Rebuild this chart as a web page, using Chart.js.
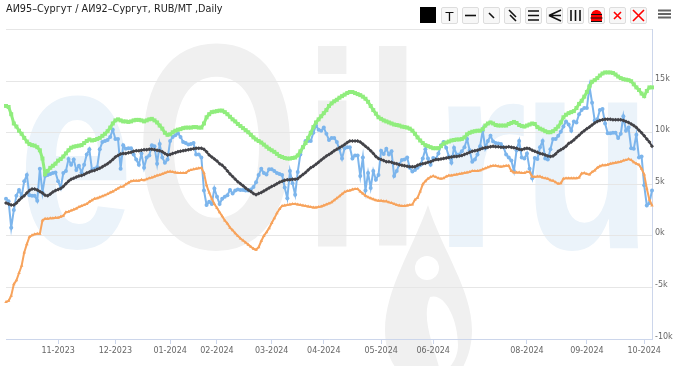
<!DOCTYPE html>
<html>
<head>
<meta charset="utf-8">
<title>АИ95-Сургут / АИ92-Сургут</title>
<script src="https://cdn.jsdelivr.net/npm/chart.js@4"></script>
<style>
    html, body { margin: 0; padding: 0; background: #fff; }
    #wrap { position: relative; width: 680px; height: 366px; overflow: hidden; }
    #toolbar { position: absolute; left: 0; top: 0; }
    .btn {
        position: absolute; top: 7px; width: 15px; height: 15px;
        border: 1px solid #ddd; border-radius: 2px; background: #f7f7f7;
    }
    .btn svg, #menu svg { display: block; }
    #menu { position: absolute; left: 658px; top: 9px; }
</style>
</head>
<body>
<div id="wrap">
    <canvas id="chart" width="680" height="366"></canvas>
    <div id="toolbar"></div>
    <div id="menu"><svg width="13" height="10"><path d="M0 1.5H13M0 5H13M0 8.5H13" stroke="#666" stroke-width="2"/></svg></div>
</div>
<script>
const titleText = 'АИ95–Сургут / АИ92–Сургут, RUB/MT ,Daily';

// month labels and the trading day each one falls on
const tickLabels = ['11-2023', '12-2023', '01-2024', '02-2024', '03-2024', '04-2024', '05-2024', '06-2024', '08-2024', '09-2024', '10-2024'];
const tickDays = [20, 42, 63, 81, 102, 122, 144, 164, 200, 223, 245];

const yTicks = [-10, -5, 0, 5, 10, 15];

// all values in thousands RUB/MT
const spread = [
    3.6, 3.35, 0.8, 2.5, 3.9, 4.45, 3.85, 5.3, 5.9, 3.95,
    3.9, 3.9, 3.4, 6.5, 4.2, 5.8, 5.9, 6.0, 6.1, 6.15,
    5.3, 4.65, 6.1, 6.3, 7.45, 6.9, 7.4, 6.4, 6.8, 6.15,
    6.9, 7.9, 8.4, 6.4, 6.5, 6.65, 8.4, 9.1, 9.2, 9.3,
    9.6, 10.3, 9.4, 9.4, 6.5, 8.8, 8.45, 8.5, 8.5, 7.9,
    7.4, 6.9, 8.0, 6.6, 7.6, 7.8, 8.8, 8.7, 7.0, 8.9,
    7.6, 7.1, 7.4, 9.2, 9.6, 9.75, 9.95, 9.6, 9.1, 9.0,
    8.85, 8.9, 9.0, 7.9, 7.9, 7.6, 4.4, 3.0, 3.3, 3.1,
    4.6, 3.8, 3.1, 3.6, 3.8, 3.95, 4.45, 4.1, 4.4, 4.5,
    4.45, 4.45, 4.4, 4.4, 4.5, 4.75, 5.2, 5.9, 6.5, 6.1,
    5.95, 6.45, 6.45, 6.3, 6.1, 6.0, 5.9, 4.7, 3.65, 6.3,
    5.1, 4.0, 6.2, 7.9, 8.6, 9.2, 9.2, 9.2, 10.0, 10.7,
    10.3, 10.2, 10.5, 9.9, 9.3, 9.5, 9.5, 9.1, 8.4, 7.5,
    8.5, 8.6, 8.6, 7.5, 7.8, 7.8, 5.8, 7.6, 4.4, 6.1,
    4.65, 6.3, 5.45, 5.9, 8.25, 7.95, 8.45, 7.9, 8.2, 5.8,
    6.3, 6.95, 7.35, 7.4, 7.6, 6.6, 6.25, 6.4, 6.6, 6.85,
    7.5, 8.4, 7.5, 6.9, 7.55, 7.45, 8.0, 8.8, 9.1, 8.55,
    7.7, 7.1, 8.55, 7.9, 7.9, 8.2, 8.6, 9.4, 8.3, 7.2,
    7.4, 7.9, 8.7, 10.2, 8.5, 9.2, 9.7, 9.15, 9.0, 8.95,
    8.9, 8.6, 7.9, 7.6, 7.3, 6.3, 8.3, 9.2, 7.6, 7.5,
    8.0, 6.5, 5.6, 7.55, 7.45, 8.6, 9.2, 7.5, 7.4, 8.4,
    9.4, 9.4, 9.7, 10.1, 10.6, 11.1, 10.8, 10.2, 11.1, 11.0,
    11.8, 12.2, 12.4, 12.4, 14.5, 12.9, 11.2, 11.3, 12.2, 12.3,
    10.9, 9.95, 9.95, 10.0, 10.0, 9.5, 9.9, 11.6, 10.2, 10.5,
    8.5, 8.45, 9.8, 7.6, 7.7, 4.9, 2.95, 3.2, 4.4
];
const average = [
    3.2, 3.1, 3.0, 3.0, 3.2, 3.45, 3.7, 3.9, 4.15, 4.4,
    4.55, 4.55, 4.45, 4.3, 4.15, 3.95, 3.9, 4.05, 4.25, 4.4,
    4.5, 4.6, 4.8, 5.05, 5.3, 5.5, 5.6, 5.7, 5.8, 5.85,
    5.95, 6.1, 6.2, 6.3, 6.35, 6.45, 6.55, 6.7, 6.85, 7.0,
    7.2, 7.4, 7.65, 7.8, 7.95, 8.0, 8.0, 8.05, 8.1, 8.2,
    8.25, 8.25, 8.3, 8.35, 8.35, 8.4, 8.4, 8.35, 8.3, 8.25,
    8.15, 8.0, 7.85, 7.9, 8.0, 8.05, 8.15, 8.2, 8.25, 8.3,
    8.35, 8.4, 8.45, 8.5, 8.5, 8.5, 8.4, 8.15, 7.85, 7.65,
    7.45, 7.25, 7.0, 6.85, 6.6, 6.3, 6.0, 5.75, 5.5, 5.25,
    5.05, 4.85, 4.65, 4.45, 4.3, 4.1, 4.0, 4.1, 4.2, 4.35,
    4.5, 4.65, 4.8, 4.9, 5.05, 5.2, 5.3, 5.4, 5.45, 5.45,
    5.5, 5.5, 5.55, 5.75, 5.95, 6.15, 6.4, 6.6, 6.75, 6.95,
    7.15, 7.35, 7.55, 7.75, 7.9, 8.05, 8.25, 8.4, 8.55, 8.7,
    8.85, 9.05, 9.2, 9.2, 9.2, 9.2, 9.1, 8.9, 8.7, 8.5,
    8.25, 8.0, 7.7, 7.5, 7.4, 7.3, 7.2, 7.2, 7.15, 7.05,
    7.0, 6.9, 6.85, 6.8, 6.75, 6.7, 6.7, 6.7, 6.85, 6.95,
    7.0, 7.05, 7.15, 7.2, 7.3, 7.4, 7.4, 7.45, 7.5, 7.55,
    7.6, 7.65, 7.7, 7.7, 7.75, 7.8, 7.9, 8.0, 8.1, 8.2,
    8.25, 8.3, 8.4, 8.5, 8.55, 8.6, 8.65, 8.7, 8.65, 8.65,
    8.6, 8.6, 8.6, 8.65, 8.6, 8.55, 8.5, 8.4, 8.35, 8.45,
    8.5, 8.45, 8.3, 8.2, 8.1, 8.0, 7.95, 7.85, 7.75, 7.7,
    7.75, 7.95, 8.2, 8.35, 8.5, 8.7, 8.95, 9.1, 9.3, 9.55,
    9.75, 10.0, 10.2, 10.4, 10.55, 10.75, 10.95, 11.1, 11.2, 11.25,
    11.3, 11.3, 11.3, 11.25, 11.25, 11.25, 11.25, 11.2, 11.1, 11.0,
    10.85, 10.7, 10.5, 10.25, 10.0, 9.7, 9.4, 9.1, 8.7
];
const upperBand = [
    12.6, 12.5, 11.8, 10.9, 10.6, 10.2, 9.9, 9.5, 9.15, 8.9,
    8.8, 8.75, 8.6, 8.3, 7.5, 6.0, 6.3, 6.6, 6.8, 7.0,
    7.3, 7.45, 7.7, 8.0, 8.3, 8.55, 8.65, 8.7, 8.75, 8.8,
    9.0, 9.2, 9.35, 9.25, 9.3, 9.4, 9.5, 9.7, 9.9, 10.15,
    10.5, 10.9, 11.2, 11.3, 11.2, 11.1, 11.1, 11.05, 11.1, 11.2,
    11.25, 11.25, 11.2, 11.1, 11.2, 11.3, 11.35, 11.2, 11.0, 10.7,
    10.4, 10.0, 9.8, 9.85, 10.05, 10.2, 10.3, 10.35, 10.45, 10.5,
    10.5, 10.5, 10.55, 10.55, 10.5, 10.5, 10.9, 11.5, 11.8, 12.0,
    12.05, 12.1, 12.15, 12.15, 12.0, 11.8, 11.55, 11.3, 11.1, 10.85,
    10.65, 10.45, 10.25, 10.05, 9.8, 9.55, 9.35, 9.2, 9.05, 8.85,
    8.65, 8.45, 8.3, 8.15, 7.95, 7.75, 7.65, 7.55, 7.5, 7.5,
    7.55, 7.6, 7.8, 8.2, 8.6, 9.0, 9.5, 10.0, 10.55, 11.0,
    11.3, 11.6, 11.9, 12.2, 12.6, 12.85, 13.05, 13.2, 13.4, 13.55,
    13.7, 13.85, 13.95, 13.95, 13.85, 13.75, 13.65, 13.5, 13.3, 13.0,
    12.6, 12.2, 11.85, 11.5, 11.35, 11.2, 11.1, 11.0, 10.9, 10.8,
    10.75, 10.7, 10.6, 10.55, 10.5, 10.4, 10.2, 9.9, 9.55, 9.25,
    9.0, 8.8, 8.7, 8.6, 8.5, 8.5, 8.5, 8.7, 8.95, 9.05,
    9.15, 9.25, 9.3, 9.35, 9.35, 9.4, 9.55, 9.85, 10.0, 10.1,
    10.15, 10.2, 10.2, 10.35, 10.7, 10.9, 11.0, 10.9, 10.75, 10.7,
    10.7, 10.7, 10.7, 10.85, 10.95, 11.05, 10.95, 10.75, 10.65, 10.6,
    10.7, 10.8, 10.9, 10.85, 10.55, 10.4, 10.3, 10.15, 10.05, 10.05,
    10.15, 10.35, 10.6, 11.0, 11.5, 11.75, 11.9, 12.0, 12.1, 12.4,
    12.8, 13.1, 13.5, 13.95, 14.5, 14.95, 15.1, 15.3, 15.55, 15.75,
    15.85, 15.85, 15.85, 15.8, 15.65, 15.45, 15.3, 15.2, 15.15, 15.1,
    15.0, 14.7, 14.4, 14.15, 13.8, 13.55, 14.05, 14.4, 14.4
];
const lowerBand = [
    -6.4, -6.3, -5.8, -4.7, -4.3, -3.6, -2.9, -1.6, -0.8, -0.1,
    0.05, 0.15, 0.2, 0.2, 1.5, 1.65, 1.65, 1.7, 1.7, 1.75,
    1.75, 1.85, 1.95, 2.3, 2.35, 2.45, 2.55, 2.65, 2.8, 2.9,
    3.0, 3.1, 3.3, 3.45, 3.6, 3.65, 3.75, 3.85, 3.95, 4.05,
    4.2, 4.3, 4.45, 4.6, 4.75, 4.8, 5.0, 5.15, 5.3, 5.35,
    5.35, 5.35, 5.45, 5.4, 5.5, 5.6, 5.65, 5.75, 5.85, 5.9,
    6.0, 6.1, 6.2, 6.25, 6.2, 6.15, 6.1, 6.1, 6.1, 6.1,
    6.3, 6.4, 6.45, 6.5, 6.55, 6.6, 6.1, 4.9, 4.2, 3.6,
    3.1, 2.7, 2.3, 1.9, 1.5, 1.2, 0.8, 0.55, 0.25, 0.0,
    -0.25, -0.45, -0.65, -0.85, -1.05, -1.25, -1.35, -1.1, -0.5, 0.0,
    0.35, 0.75, 1.25, 1.7, 2.2, 2.6, 2.9, 2.95, 3.0, 3.05,
    3.1, 3.1, 3.05, 3.0, 2.95, 2.9, 2.85, 2.8, 2.75, 2.75,
    2.8, 2.85, 2.95, 3.05, 3.15, 3.25, 3.45, 3.65, 3.85, 4.05,
    4.25, 4.35, 4.4, 4.5, 4.55, 4.55, 4.3, 4.1, 3.9, 3.75,
    3.65, 3.55, 3.45, 3.4, 3.4, 3.35, 3.35, 3.25, 3.2, 3.1,
    3.0, 2.95, 2.9, 2.9, 2.95, 3.0, 3.05, 3.5, 3.7, 4.3,
    5.0, 5.3, 5.55, 5.7, 5.8, 5.7, 5.6, 5.55, 5.6, 5.75,
    5.85, 5.85, 5.9, 5.95, 6.0, 6.05, 6.1, 6.15, 6.2, 6.3,
    6.3, 6.3, 6.35, 6.45, 6.55, 6.65, 6.75, 6.8, 6.8, 6.75,
    6.7, 6.75, 6.8, 6.8, 6.3, 6.15, 6.15, 6.15, 6.1, 6.1,
    6.2, 6.2, 5.75, 5.7, 5.75, 5.75, 5.65, 5.6, 5.55, 5.4,
    5.35, 5.2, 5.05, 5.1, 5.55, 5.6, 5.6, 5.6, 5.6, 5.6,
    5.65, 6.05, 6.1, 6.0, 5.95, 6.2, 6.35, 6.6, 6.75, 6.85,
    6.85, 6.9, 7.0, 7.05, 7.1, 7.15, 7.2, 7.3, 7.35, 7.45,
    7.35, 7.15, 7.0, 6.9, 6.5, 5.95, 4.6, 3.5, 2.95
];

const categories = spread.map((v, i) => {
    const k = tickDays.indexOf(i);
    return k >= 0 ? tickLabels[k] : '';
});

// big pale site mark behind the lines
const watermark = {
    id: 'watermark',
    beforeDraw(chart) {
        const ctx = chart.ctx;
        const fit = (ch, x0, x1, y0, y1, color) => {
            ctx.save();
            ctx.font = 'bold 200px "Liberation Sans"';
            ctx.fillStyle = color;
            ctx.textBaseline = 'alphabetic';
            const m = ctx.measureText(ch);
            const w = m.actualBoundingBoxRight + m.actualBoundingBoxLeft;
            const h = m.actualBoundingBoxAscent + m.actualBoundingBoxDescent;
            ctx.translate(x0, y0);
            ctx.scale((x1 - x0) / w, (y1 - y0) / h);
            ctx.fillText(ch, m.actualBoundingBoxLeft, m.actualBoundingBoxAscent);
            ctx.restore();
        };
        const blue = '#ebf3fa', gray = '#f0f0f0';
        fit('e', 25, 127, 95, 250, blue);
        fit('O', 143, 291, 43, 251, gray);
        fit('i', 317, 347, 46, 248, gray);
        fit('l', 378, 407, 46, 247, gray);
        fit('r', 448, 524, 102, 247, blue);
        fit('u', 535, 638, 102, 251, blue);

        ctx.save();
        ctx.fillStyle = gray;
        ctx.beginPath();
        ctx.moveTo(428, 205);
        ctx.bezierCurveTo(412, 250, 385, 290, 385, 330);
        ctx.bezierCurveTo(385, 350, 392, 366, 400, 372);
        ctx.lineTo(460, 372);
        ctx.bezierCurveTo(468, 360, 472, 345, 472, 330);
        ctx.bezierCurveTo(472, 290, 442, 250, 428, 205);
        ctx.fill();
        ctx.fillStyle = '#fff';
        ctx.beginPath();
        ctx.arc(427, 268, 12, 0, Math.PI * 2);
        ctx.fill();
        ctx.beginPath();
        ctx.moveTo(430, 297);
        ctx.bezierCurveTo(445, 292, 458, 320, 458, 345);
        ctx.bezierCurveTo(458, 360, 448, 372, 440, 372);
        ctx.bezierCurveTo(436, 350, 420, 320, 430, 297);
        ctx.fill();
        ctx.restore();
    }
};

new Chart(document.getElementById('chart'), {
    type: 'line',
    plugins: [watermark],
    data: {
        labels: categories,
        datasets: [
            { data: spread, borderColor: '#7cb5ec', backgroundColor: '#7cb5ec', pointStyle: 'circle', pointRadius: 2, borderWidth: 2, order: 4 },
            { data: average, borderColor: '#434348', backgroundColor: '#434348', pointStyle: 'rectRot', pointRadius: 2, borderWidth: 2, order: 3 },
            { data: upperBand, borderColor: '#90ed7d', backgroundColor: '#90ed7d', pointStyle: 'rect', pointRadius: 2.8, borderWidth: 3, order: 2 },
            { data: lowerBand, borderColor: '#f7a35c', backgroundColor: '#f7a35c', pointStyle: 'triangle', pointRadius: 2, borderWidth: 2, order: 1 }
        ]
    },
    options: {
        responsive: false,
        animation: false,
        clip: false,
        layout: { padding: { left: 6, right: 0, top: 0, bottom: 0 } },
        elements: { line: { tension: 0 }, point: { pointBorderWidth: 0 } },
        plugins: {
            legend: { display: false },
            tooltip: { enabled: false },
            title: {
                display: true,
                text: titleText,
                align: 'start',
                color: '#222',
                font: { family: '"DejaVu Sans"', size: 9.7, weight: 'normal' },
                padding: { top: 4, bottom: 14 }
            }
        },
        scales: {
            x: {
                grid: { drawOnChartArea: false, drawTicks: true, tickLength: 5, color: '#ccd6eb' },
                border: { color: '#ccd6eb' },
                afterBuildTicks(scale) {
                    scale.ticks = tickDays.map(d => ({ value: d }));
                },
                afterFit(scale) { scale.height = 27; },
                ticks: {
                    autoSkip: false,
                    maxRotation: 0,
                    color: '#666',
                    padding: 2,
                    font: { family: '"DejaVu Sans"', size: 8 }
                }
            },
            y: {
                position: 'right',
                min: -10,
                max: 20,
                grid: { color: '#e6e6e6', drawTicks: false },
                border: { color: '#ccd6eb' },
                afterBuildTicks(scale) {
                    scale.ticks = [...yTicks, 20].map(v => ({ value: v }));
                },
                afterFit(scale) { scale.width = 28; },
                ticks: {
                    color: '#666',
                    padding: 3,
                    labelOffset: -2.5,
                    font: { family: '"DejaVu Sans"', size: 8 },
                    callback: v => (yTicks.includes(v) ? v + 'k' : '')
                }
            }
        }
    }
});

// drawing tools strip above the plot
const tools = [
    '<path d="M2 2H13V13H2Z" fill="#000"/>',
    '<text x="7.5" y="12.5" font-family="DejaVu Sans" font-size="13" text-anchor="middle" fill="#111">T</text>',
    '<path d="M2 7.5H13" stroke="#111" stroke-width="1.6"/>',
    '<path d="M5 5L10 10" stroke="#111" stroke-width="1.6"/>',
    '<path d="M4 2L11 9M5 7L11 13" stroke="#111" stroke-width="1.6"/>',
    '<path d="M2 3H13M2 7.5H13M2 12H13" stroke="#111" stroke-width="1.6"/>',
    '<path d="M14 2L2 7.5L14 7.5M2 7.5L14 13" stroke="#111" stroke-width="1.6" fill="none"/>',
    '<path d="M3 2V13M7.5 2V13M12 2V13" stroke="#111" stroke-width="1.6"/>',
    '<path d="M2 13V8C2 4 5 2 7.5 2S13 4 13 8V13Z" fill="#f00"/><path d="M2 6.5H13M1.5 10H13.5M2 13.5H13" stroke="#111" stroke-width="1.2"/>',
    '<path d="M4 4L11 11M11 4L4 11" stroke="#f00" stroke-width="1.6"/>',
    '<path d="M2 2L13 13M13 2L2 13" stroke="#f00" stroke-width="1.6"/>'
];
const bar = document.getElementById('toolbar');
const firstTool = document.createElement('div');
firstTool.style.cssText = 'position:absolute;left:420px;top:7px;width:16px;height:16px;background:#000';
bar.appendChild(firstTool);
tools.slice(1).forEach((icon, i) => {
    const b = document.createElement('div');
    b.className = 'btn';
    b.style.left = (441 + i * 21) + 'px';
    b.innerHTML = '<svg width="15" height="15">' + icon + '</svg>';
    bar.appendChild(b);
});
</script>
</body>
</html>
